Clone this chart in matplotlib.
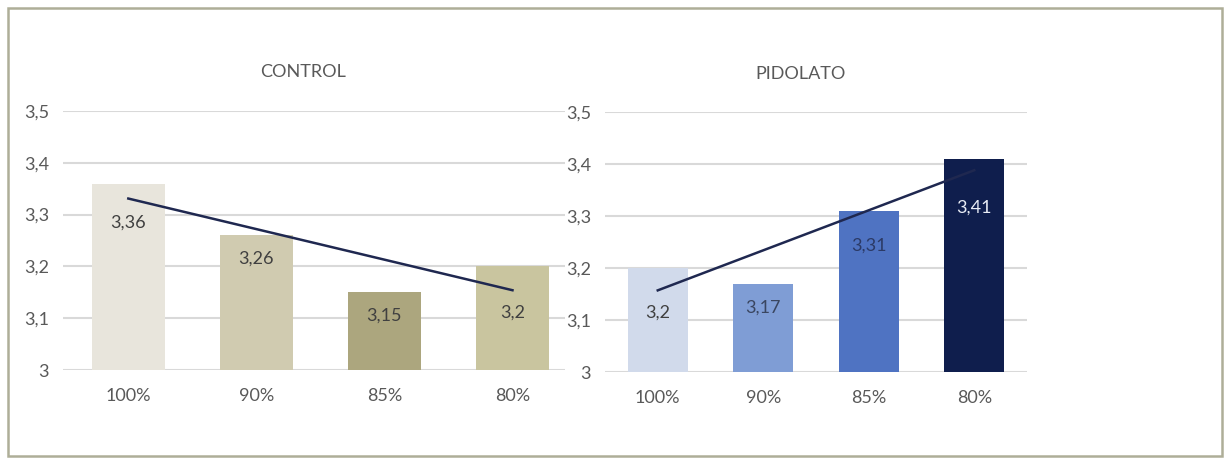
import numpy as np
import matplotlib.pyplot as plt
from matplotlib.patches import Rectangle

categorias = ['100%', '90%', '85%', '80%']
control = [3.36, 3.26, 3.15, 3.2]
pidolato = [3.2, 3.17, 3.31, 3.41]
ticks_y = [3.0, 3.1, 3.2, 3.3, 3.4, 3.5]

col_control = ['#e8e5dc', '#d0cbb0', '#aca67e', '#c9c59f']
col_pidolato = ['#d1daeb', '#7f9dd5', '#4f73c2', '#0f1e4d']
col_etiq_control = ['#404040', '#404040', '#404040', '#404040']
col_etiq_pidolato = ['#404040', '#3a4660', '#2b3a66', '#e8ecf5']
# desplazamiento (pt) de cada etiqueta bajo el borde superior de la barra
desp_control = [-28, -17, -17, -33]
desp_pidolato = [-32, -17, -25, -35]

plt.rcParams['font.family'] = ['Lato', 'DejaVu Sans']
GRIS = '#595959'
TAM = 13

fig = plt.figure(figsize=(12.29, 4.61), dpi=100)


def etiqueta(v):
    return ('%g' % v).replace('.', ',')


def panel(rect, valores, colores, col_etiq, desp, xlim):
    ax = fig.add_axes(rect)
    x = np.arange(len(valores))
    ax.bar(x, [v - 3 for v in valores], bottom=3, width=0.57, color=colores, zorder=2)
    m, b = np.polyfit(x, valores, 1)
    ax.plot([x[0], x[-1]], [m * x[0] + b, m * x[-1] + b], color='#1f2850', lw=1.8, zorder=3)
    for xi, v, c, d in zip(x, valores, col_etiq, desp):
        ax.annotate(etiqueta(v), (xi, v), xytext=(0, d), textcoords='offset points',
                    ha='center', va='center', fontsize=TAM, color=c, zorder=4)
    ax.set_ylim(3, 3.5)
    ax.set_xlim(*xlim)
    ax.set_yticks(ticks_y)
    ax.set_yticklabels([etiqueta(t) for t in ticks_y])
    ax.set_xticks(x)
    ax.set_xticklabels(categorias)
    ax.grid(axis='y', color='#d9d9d9', lw=1.5, zorder=0)
    ax.set_axisbelow(True)
    for s in ax.spines.values():
        s.set_visible(False)
    ax.tick_params(length=0, labelsize=TAM, colors=GRIS)
    ax.tick_params(axis='y', pad=10)
    ax.tick_params(axis='x', pad=13)
    ax.set_facecolor('none')
    return ax


panel([63 / 1229, 1 - 370 / 461, 502 / 1229, 259 / 461], control, col_control,
      col_etiq_control, desp_control, (-0.51, 3.41))
panel([605 / 1229, 1 - 372 / 461, 422 / 1229, 260 / 461], pidolato, col_pidolato,
      col_etiq_pidolato, desp_pidolato, (-0.5, 3.5))

fig.text(303 / 1229, 1 - 72 / 461, 'CONTROL', ha='center', va='center', fontsize=TAM, color=GRIS)
fig.text(801 / 1229, 1 - 74 / 461, 'PIDOLATO', ha='center', va='center', fontsize=TAM, color=GRIS)

fig.patches.append(Rectangle((8 / 1229, 5 / 461), 1214 / 1229, 448 / 461, transform=fig.transFigure,
                             fill=False, edgecolor='#aeae98', lw=1.8))

fig.savefig('out.png', dpi=100)
